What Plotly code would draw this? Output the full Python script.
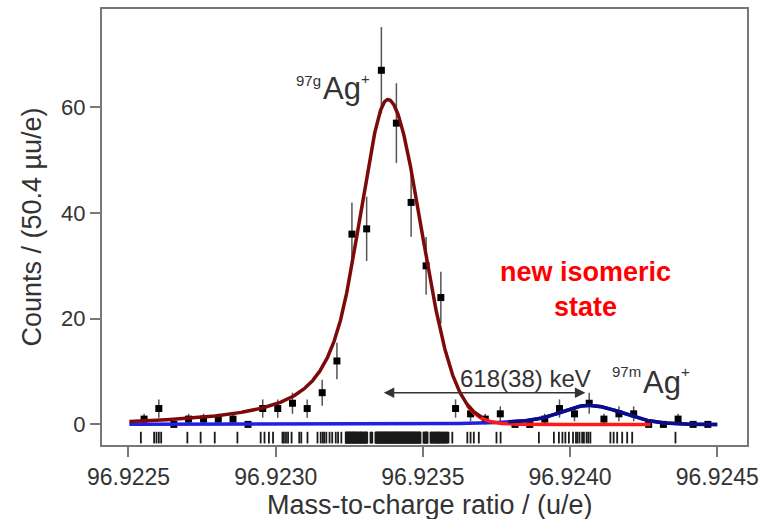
import numpy as np
import plotly.graph_objects as go

# ---- data -------------------------------------------------------------
# mass values are given in micro-u above 96.922 u
BASE_U = 96.922
BIN_WIDTH_UU = 50.4

bin_centers_uu = [553, 603, 654, 704, 755, 805, 855, 906, 956, 1007, 1057, 1107,
                  1158, 1208, 1259, 1309, 1359, 1410, 1460, 1511, 1561, 1611, 1662,
                  1712, 1763, 1813, 1863, 1914, 1964, 2015, 2065, 2115, 2166, 2216,
                  2267, 2317, 2367, 2418, 2468]
counts = [1, 3, 0, 1, 1, 1, 1, 0, 3, 3, 4, 3, 6, 12, 36, 37, 67, 57, 42, 30, 24,
          3, 2, 1, 2, 0, 0, 1, 3, 2, 4, 1, 2, 2, 0, 0, 1, 0, 0]

# individual ion events (rug), micro-u above 96.922 u
events_uu = [
    542, 587, 595, 603, 611, 700, 745, 793, 870, 949, 962, 977, 991, 1023, 1028,
    1035, 1042, 1054, 1080, 1087, 1108, 1142, 1153, 1160, 1165, 1172, 1183, 1192,
    1204, 1212, 1223,
    1238, 1239, 1241, 1242, 1244, 1246, 1248, 1249, 1251, 1252, 1253, 1255, 1257,
    1259, 1261, 1262, 1263, 1265, 1267, 1268, 1270, 1272, 1274, 1275, 1277, 1278,
    1280, 1282, 1284, 1286, 1287, 1289, 1290, 1292, 1294, 1296, 1297, 1299, 1301,
    1303, 1305, 1306, 1308, 1309, 1311,
    1322, 1325, 1328,
    1339, 1340, 1342, 1343, 1344, 1346, 1348, 1349, 1351, 1352, 1353, 1355, 1357,
    1358, 1360, 1361, 1362, 1364, 1366, 1367, 1369, 1370, 1371, 1373, 1375, 1376,
    1378, 1379, 1380, 1382, 1384, 1385, 1387, 1388, 1389, 1391, 1393, 1394, 1396,
    1397, 1398, 1400, 1402, 1403, 1405, 1406, 1407, 1409, 1411, 1412, 1414, 1415,
    1416, 1418, 1420, 1421, 1423, 1424, 1425, 1427, 1429, 1430, 1432, 1433, 1434,
    1436, 1438, 1439, 1441, 1442, 1443, 1445, 1447, 1448, 1450, 1451, 1452, 1454,
    1456, 1457, 1459, 1460, 1461, 1463, 1465, 1466, 1468, 1469, 1470, 1472, 1474,
    1475, 1477, 1478, 1479, 1481, 1483, 1484, 1486, 1487, 1489, 1490, 1492,
    1502, 1504, 1506, 1508, 1510, 1512, 1513, 1514, 1516,
    1526, 1528, 1530, 1533, 1535, 1537, 1539, 1542, 1544, 1546, 1548, 1551, 1553,
    1555, 1557, 1560, 1562, 1565, 1568, 1571, 1573, 1576, 1578, 1581, 1583,
    1587, 1600,
    1651, 1662, 1673, 1690, 1750, 1764, 1894, 1945, 1962, 1974, 1984, 1996, 2010,
    2020, 2025, 2032, 2041, 2047, 2056, 2062, 2069, 2137, 2148, 2160, 2177, 2194,
    2211, 2358,
]

# fit parameters (micro-u above 96.922 u, counts)
mu_g, amp_g = 1381, 61.4       # 97g Ag+
mu_m, amp_m = 2063, 3.6        # 97m Ag+
sigma_left, sigma_right = 95.0, 113.0
tail_weights = [0.749, 0.195, 0.056]
tail_k = [1.5, 0.45, 0.25]
fit_start, fit_end = 503, 2500

x_ticks = [96.9225, 96.9230, 96.9235, 96.9240, 96.9245]
y_ticks = [0, 20, 40, 60]


def to_u(v):
    return BASE_U + np.asarray(v, dtype=float) * 1e-6


def peak_shape(x, mu):
    """Gaussian core with multi-exponential low-mass tails."""
    d = x - mu
    out = np.zeros_like(x)
    zl = d / sigma_left
    for w, k in zip(tail_weights, tail_k):
        left = np.where(zl >= -k, np.exp(-0.5 * zl ** 2), np.exp(0.5 * k * k + k * zl))
        out += w * np.where(d < 0, left, np.exp(-0.5 * (d / sigma_right) ** 2))
    return out


xf = np.linspace(fit_start, fit_end, 1200)
comp_g = amp_g * peak_shape(xf, mu_g)
comp_m = amp_m * peak_shape(xf, mu_m)
total = comp_g + comp_m

counts_arr = np.array(counts, dtype=float)
err = np.sqrt(counts_arr)

fig = go.Figure()

# binned counts with Poisson errors
fig.add_trace(go.Scatter(
    x=to_u(bin_centers_uu), y=counts_arr, mode="markers",
    marker=dict(symbol="square", size=7, color="black"),
    error_y=dict(type="data", array=err, visible=True, color="#555555",
                 thickness=1.5, width=0),
))

# rug of single events, one short vertical shape per event
rug_shapes = [
    dict(type="line", xref="x", yref="y", x0=float(to_u(e)), x1=float(to_u(e)),
         y0=-1.4, y1=-3.6, line=dict(color="#1a1a1a", width=1.8), layer="above")
    for e in events_uu
]

# fit components and total fit
fig.add_trace(go.Scatter(x=to_u(xf), y=comp_m, mode="lines",
                         line=dict(color="#1f1fe6", width=3.5)))
mask_r = (xf >= 1650) & (xf <= 2275)
fig.add_trace(go.Scatter(x=to_u(xf[mask_r]), y=comp_g[mask_r],
                         mode="lines", line=dict(color="#ff1a1a", width=3.5)))
mask_g = xf <= 1700
fig.add_trace(go.Scatter(x=to_u(xf[mask_g]), y=total[mask_g], mode="lines",
                         line=dict(color="#7d0a0a", width=3.5)))
mask_m = xf >= 1790
fig.add_trace(go.Scatter(x=to_u(xf[mask_m]), y=total[mask_m], mode="lines",
                         line=dict(color="#0c0c86", width=3.5)))

txt = "#333333"
font = "Liberation Sans, Arial, sans-serif"
ann = []


def label(x, y, text, size, color=txt, **kw):
    ann.append(dict(x=x, y=y, xref="x", yref="y", text=text, showarrow=False,
                    font=dict(family=font, size=size, color=color), **kw))


label(96.923112, 65.0, "97g", 15)
label(96.923224, 63.6, "Ag", 31)
label(96.9233055, 65.5, "+", 15)
label(96.924190, 10.0, "97m", 15)
label(96.924312, 8.0, "Ag", 31)
label(96.924392, 10.1, "+", 15)
label(96.9238486, 8.6, "618(38) keV", 24)
label(96.924052, 25.6, "<b>new isomeric<br>state</b>", 27, color="#ff0000")

# x-axis title
ann.append(dict(x=0.509, y=-0.137, xref="paper", yref="paper", showarrow=False,
                text="Mass-to-charge ratio / (u/e)", yanchor="middle",
                font=dict(family=font, size=27, color=txt)))

# energy difference arrow
ann.append(dict(x=96.924052, y=6.0, ax=96.923362, ay=6.0, xref="x", yref="y",
                axref="x", ayref="y", text="", showarrow=True, arrowhead=2,
                arrowside="end+start", arrowsize=1.4, arrowwidth=1.5,
                arrowcolor="#333333"))

fig.update_layout(
    width=770, height=519,
    margin=dict(l=102, r=23, t=7, b=74),
    paper_bgcolor="white", plot_bgcolor="white",
    showlegend=False,
    font=dict(family=font, color=txt),
    annotations=ann,
    shapes=rug_shapes,
    xaxis=dict(
        range=[96.92241, 96.924601], tickvals=x_ticks, tickformat=".4f",
        ticks="outside", ticklen=10, tickwidth=1.5, tickcolor="#777777",
        tickfont=dict(size=23, color=txt),
        showline=True, mirror=True, linecolor="#777777", linewidth=2,
        showgrid=False, zeroline=False,
    ),
    yaxis=dict(
        range=[-3.9, 78.6], tickvals=y_ticks,
        ticks="outside", ticklen=10, tickwidth=1.5, tickcolor="#777777",
        tickfont=dict(size=22, color=txt),
        showline=True, mirror=True, linecolor="#777777", linewidth=2,
        showgrid=False, zeroline=False,
        title=dict(text="Counts / (50.4 \u00b5u/e)", font=dict(size=27, color=txt),
                   standoff=12),
    ),
)

fig.write_html("out.html")
